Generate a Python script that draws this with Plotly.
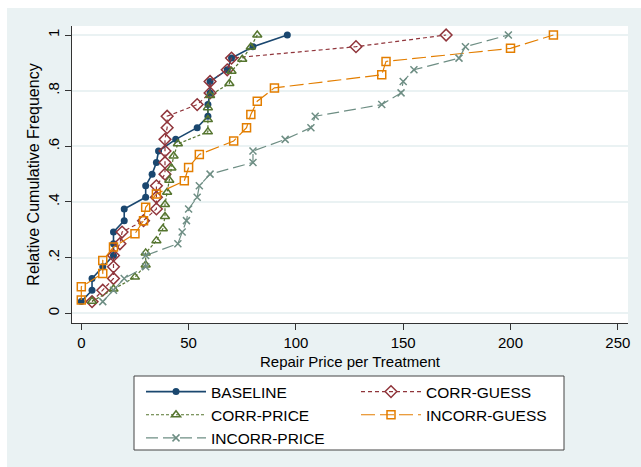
import plotly.graph_objects as go

# ---------------- data ----------------
baseline_x = [0, 5, 5, 10, 15, 15, 15, 20, 20, 30, 30, 33, 35, 36, 44, 54, 59, 59, 60, 60, 68, 70, 80, 96]
baseline_y = [0.042, 0.083, 0.125, 0.167, 0.208, 0.25, 0.292, 0.333, 0.375, 0.417, 0.458, 0.5,
              0.542, 0.583, 0.625, 0.667, 0.708, 0.75, 0.792, 0.833, 0.875, 0.917, 0.958, 1.0]

corr_guess_x = [5, 10, 15, 15, 15, 18, 19, 29, 35, 35, 35, 39, 39, 39, 39, 40, 40, 54, 60, 60, 68, 70, 128, 170]
corr_guess_y = [0.042, 0.083, 0.125, 0.167, 0.208, 0.25, 0.292, 0.333, 0.375, 0.417, 0.458, 0.5,
                0.542, 0.583, 0.625, 0.667, 0.708, 0.75, 0.792, 0.833, 0.875, 0.917, 0.958, 1.0]

corr_price_x = [5, 15, 25, 30, 30, 35, 38, 39, 39, 40, 41, 42, 43, 45, 59, 59, 59, 60, 69, 70, 75, 79, 82]
corr_price_y = [0.043, 0.087, 0.130, 0.174, 0.217, 0.261, 0.304, 0.348, 0.391, 0.435, 0.478, 0.522,
                0.565, 0.609, 0.652, 0.696, 0.739, 0.783, 0.826, 0.870, 0.913, 0.957, 1.0]

incorr_guess_x = [0, 0, 10, 10, 15, 25, 29, 30, 35, 48, 50, 55, 71, 77, 79, 82, 90, 140, 142, 200, 220]
incorr_guess_y = [0.048, 0.095, 0.143, 0.190, 0.238, 0.286, 0.333, 0.381, 0.429, 0.476, 0.524,
                  0.571, 0.619, 0.667, 0.714, 0.762, 0.810, 0.857, 0.905, 0.952, 1.0]

incorr_price_x = [10, 15, 20, 30, 30, 45, 47, 49, 50, 54, 55, 60, 80, 80, 95, 107, 109, 140, 149, 150, 155, 176, 179, 199]
incorr_price_y = [0.042, 0.083, 0.125, 0.167, 0.208, 0.25, 0.292, 0.333, 0.375, 0.417, 0.458, 0.5,
                  0.542, 0.583, 0.625, 0.667, 0.708, 0.75, 0.792, 0.833, 0.875, 0.917, 0.958, 1.0]

x_ticks = [0, 50, 100, 150, 200, 250]
y_ticks = [0, 0.2, 0.4, 0.6, 0.8, 1]
y_tick_labels = ["0", ".2", ".4", ".6", ".8", "1"]

# ---------------- layout geometry ----------------
W, H = 641, 467
L, R, T, B = 72, 628, 26, 323          # plot area in px
PW, PH = R - L, B - T

def px(p):
    return (p - L) / PW

def py(p):
    return (B - p) / PH

NAVY = "#1a476f"
MAROON = "#90353b"
GREEN = "#55752f"
ORANGE = "#e37e00"
TEAL = "#6e8e84"
BG = "#eaf2f3"
FONT = "Liberation Sans, Arial, Helvetica, sans-serif"

fig = go.Figure()

fig.add_trace(go.Scatter(
    x=baseline_x, y=baseline_y, name="BASELINE", mode="lines+markers",
    line=dict(color=NAVY, width=1.6),
    marker=dict(symbol="circle", size=7, color=NAVY),
    legend="legend"))
fig.add_trace(go.Scatter(
    x=corr_guess_x, y=corr_guess_y, name="CORR-GUESS", mode="lines+markers",
    line=dict(color=MAROON, width=1.2, dash="4px,3px"),
    marker=dict(symbol="diamond-open", size=9, color=MAROON, line=dict(width=1.5)),
    legend="legend2"))
fig.add_trace(go.Scatter(
    x=corr_price_x, y=corr_price_y, name="CORR-PRICE", mode="lines+markers",
    line=dict(color=GREEN, width=1.2, dash="3px,2px"),
    marker=dict(symbol="triangle-up-open", size=8, color=GREEN, line=dict(width=1.5)),
    legend="legend"))
fig.add_trace(go.Scatter(
    x=incorr_guess_x, y=incorr_guess_y, name="INCORR-GUESS", mode="lines+markers",
    line=dict(color=ORANGE, width=1.2, dash="14px,5px"),
    marker=dict(symbol="square-open", size=8, color=ORANGE, line=dict(width=1.5)),
    legend="legend2"))
fig.add_trace(go.Scatter(
    x=incorr_price_x, y=incorr_price_y, name="INCORR-PRICE", mode="lines+markers",
    line=dict(color=TEAL, width=1.2, dash="12px,5px"),
    marker=dict(symbol="x-thin-open", size=7, color=TEAL, line=dict(width=1.5)),
    legend="legend"))

x0_val = (L - 81.3) / 2.146
x1_val = (R - 81.3) / 2.146
y0_val = (313.3 - B) / 278.3
y1_val = (313.3 - T) / 278.3

legend_common = dict(
    orientation="v", xanchor="left", yanchor="top",
    bgcolor="rgba(0,0,0,0)", borderwidth=0, itemwidth=60,
    font=dict(family=FONT, size=15.5, color="#000"),
    tracegroupgap=0, itemclick=False, itemdoubleclick=False,
)

fig.update_layout(
    width=W, height=H,
    margin=dict(l=L, r=W - R, t=T, b=H - B, pad=0),
    paper_bgcolor=BG, plot_bgcolor="white",
    font=dict(family=FONT, size=15, color="#000"),
    showlegend=True,
    legend=dict(x=px(141), y=py(375), **legend_common),
    legend2=dict(x=px(356), y=py(375), **legend_common),
    xaxis=dict(
        range=[x0_val, x1_val], tickvals=x_ticks, showgrid=False, zeroline=False,
        showline=True, linecolor="#333", linewidth=1,
        ticks="outside", ticklen=6, tickcolor="#333", tickwidth=1,
        tickfont=dict(size=15),
        title=dict(text="Repair Price per Treatment", font=dict(size=15), standoff=6),
    ),
    yaxis=dict(
        range=[y0_val, y1_val], tickvals=y_ticks, ticktext=y_tick_labels, tickangle=-90,
        showgrid=True, gridcolor=BG, gridwidth=1.5, zeroline=False,
        showline=True, linecolor="#333", linewidth=1,
        ticks="outside", ticklen=6, tickcolor="#333", tickwidth=1,
        tickfont=dict(size=15),
        title=dict(text="Relative Cumulative Frequency", font=dict(size=16), standoff=1),
    ),
    shapes=[
        # thin white border of the outer region (top and left)
        dict(type="rect", xref="paper", yref="paper", x0=px(0), x1=px(W), y0=py(8), y1=py(0),
             fillcolor="white", line=dict(width=0), layer="below"),
        dict(type="rect", xref="paper", yref="paper", x0=px(0), x1=px(7), y0=py(H), y1=py(0),
             fillcolor="white", line=dict(width=0), layer="below"),
        # legend box
        dict(type="rect", xref="paper", yref="paper", x0=px(134), x1=px(564), y0=py(450), y1=py(376),
             fillcolor="white", line=dict(color="#444", width=1), layer="below"),
    ],
)

fig.write_html("out.html")
